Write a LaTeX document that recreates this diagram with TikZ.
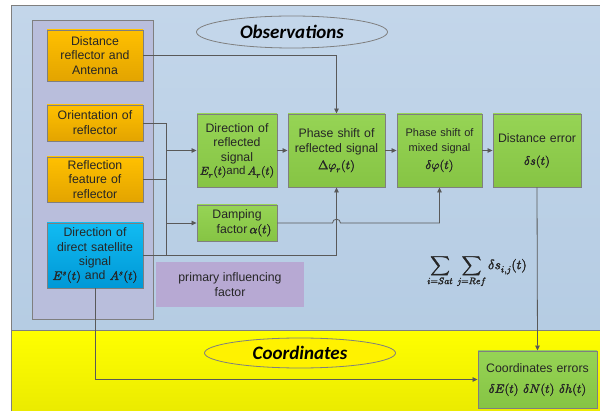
\documentclass[tikz,border=0pt]{standalone}
\usepackage{amsmath}
\usepackage{fontspec}
\usepackage{unicode-math}
\setmainfont{Liberation Sans}
\setmathfont{Latin Modern Math}
\setmathfont{Latin Modern Math}[version=bold,FakeBold=2.5]
\newfontfamily\titlefont{Carlito}
\usetikzlibrary{arrows.meta,shapes.geometric}
\newcommand{\bmath}[1]{{\boldmath$#1$}}
\definecolor{bgblue}{HTML}{C3D6EA}
\definecolor{bgblueB}{HTML}{B5CCE3}
\definecolor{panel}{HTML}{B9BEDC}
\definecolor{lgray}{HTML}{7F7F7F}
\definecolor{wire}{HTML}{595959}
\definecolor{orangeT}{HTML}{FFC000}
\definecolor{orangeB}{HTML}{E3A400}
\definecolor{greenT}{HTML}{96D455}
\definecolor{greenB}{HTML}{86C444}
\definecolor{cyanT}{HTML}{11BBF2}
\definecolor{cyanB}{HTML}{0098D6}
\definecolor{prim}{HTML}{B7A9D3}
\begin{document}
\begin{tikzpicture}[x=1pt,y=-1pt,
  every node/.style={font=\fontsize{12.3}{14.8}\selectfont, text=black!85},
  box/.style={draw=lgray, line width=0.9pt, align=center, inner sep=0pt},
  obox/.style={box, top color=orangeT, bottom color=orangeB, minimum width=96pt, text width=94pt},
  gbox/.style={box, top color=greenT, bottom color=greenB},
  cbox/.style={box, top color=cyanT, bottom color=cyanB, minimum width=96pt, text width=94pt},
  wireline/.style={draw=wire, line width=0.8pt},
  arr/.style={wireline, -{Triangle[length=5pt,width=4.5pt]}},
  oval/.style={ellipse, draw=lgray, line width=0.8pt, inner sep=0pt, text=black,
     font=\titlefont\bfseries\itshape\fontsize{19}{20}\selectfont}
]
\useasboundingbox (0,0) rectangle (600,411);
% backgrounds
\path[top color=bgblue, bottom color=bgblueB, draw=lgray, line width=1pt] (11,6) rectangle (600,331);
\path[top color=yellow, bottom color=yellow!92!black, draw=lgray, line width=1pt] (11,331) rectangle (600,412);
\path[fill=panel, draw=lgray, line width=0.9pt] (32,20) rectangle (153,319);

% ellipses
\node[oval, fill=bgblue, minimum width=191pt, minimum height=32pt] (obs) at (292,32) {Observations};
\node[oval, fill=yellow, minimum width=191pt, minimum height=30pt] (coord) at (300,353) {Coordinates};

% left boxes
\node[obox, minimum height=51pt] (dist) at (95,55.5) {Distance\\reflector and\\Antenna};
\node[obox, minimum height=36pt] (orient) at (95,123) {Orientation of\\reflector};
\node[obox, minimum height=45pt] (reflf) at (95,179.5) {Reflection\\feature of\\reflector};
\node[cbox, minimum height=65pt, font=\fontsize{12.3}{14.3}\selectfont] (sat) at (95,255.5) {Direction of\\direct satellite\\signal\\\bmath{E^s(t)} and \bmath{A^s(t)}};

% green boxes
\node[gbox, minimum width=80pt, text width=78pt, minimum height=73pt, font=\fontsize{12.3}{14.5}\selectfont] (dirrefl) at (237,150.5) {Direction of\\reflected\\signal\\[-1pt]{\fontsize{11.5}{13}\selectfont\bmath{E_r(t)}and\,\bmath{A_r(t)}}};
\node[gbox, minimum width=97pt, text width=95pt, minimum height=73pt] (phref) at (336.5,150.5) {Phase shift of\\reflected signal\\[2pt]\bmath{\Delta\varphi_r(t)}};
\node[gbox, minimum width=85pt, text width=83pt, minimum height=73pt, font=\fontsize{11}{15}\selectfont] (phmix) at (439.5,150.5) {Phase shift of\\mixed signal\\[2pt]{\fontsize{12.3}{14}\selectfont\bmath{\delta\varphi(t)}}};
\node[gbox, minimum width=88pt, text width=86pt, minimum height=73pt] (derr) at (537,150.5) {Distance error\\[8pt]\bmath{\delta s(t)}};
\node[gbox, minimum width=80pt, text width=78pt, minimum height=36pt] (damp) at (237,223) {Damping\\\hspace*{14pt}factor\,\bmath{\alpha(t)}};
\node[gbox, minimum width=119pt, text width=117pt, minimum height=57pt] (cerr) at (537.5,379.5) {Coordinates errors\\[6pt]\bmath{\delta E(t)\;\delta N(t)\;\delta h(t)}};

% primary influencing factor
\node[fill=prim, minimum width=148pt, minimum height=45pt, align=center] (prim) at (230,284.5) {primary influencing\\factor};

% sum
\node[font=\fontsize{13.5}{15}\selectfont] (sumtxt) at (477,272) {\bmath{\displaystyle\sum_{i=Sat}\,\sum_{j=Ref}\delta s_{i,j}(t)}};

% connectors
\coordinate (bo) at (166,123);
\coordinate (bs) at (166,255.5);
\coordinate (bd) at (166,150.5);
\coordinate (bm) at (166,223);
\draw[wireline] (orient.east) -- (bo) -- (bs);
\draw[wireline] (reflf.east) -- (reflf.east -| bo);
\draw[arr] (bd) -- (dirrefl.west);
\draw[arr] (bm) -- (damp.west);
\draw[arr] (sat.east) -| (phref.south);
\draw[arr] (dist.east) -| (phref.north);
\draw[arr] (dirrefl.east) -- (phref.west);
\draw[arr] (phref.east) -- (phmix.west);
\draw[arr] (phmix.east) -- (derr.west);
\coordinate (h1) at (332.5,223);
\coordinate (h2) at (340.5,223);
\coordinate (dm) at (439.5,223);
\draw[arr] (damp.east) -- (h1) .. controls (332.5,218) and (340.5,218) .. (h2) -- (dm) -- (phmix.south);
\draw[arr] (derr.south) -- (cerr.north);
\draw[arr] (sat.south) |- (cerr.west);
\end{tikzpicture}
\end{document}
